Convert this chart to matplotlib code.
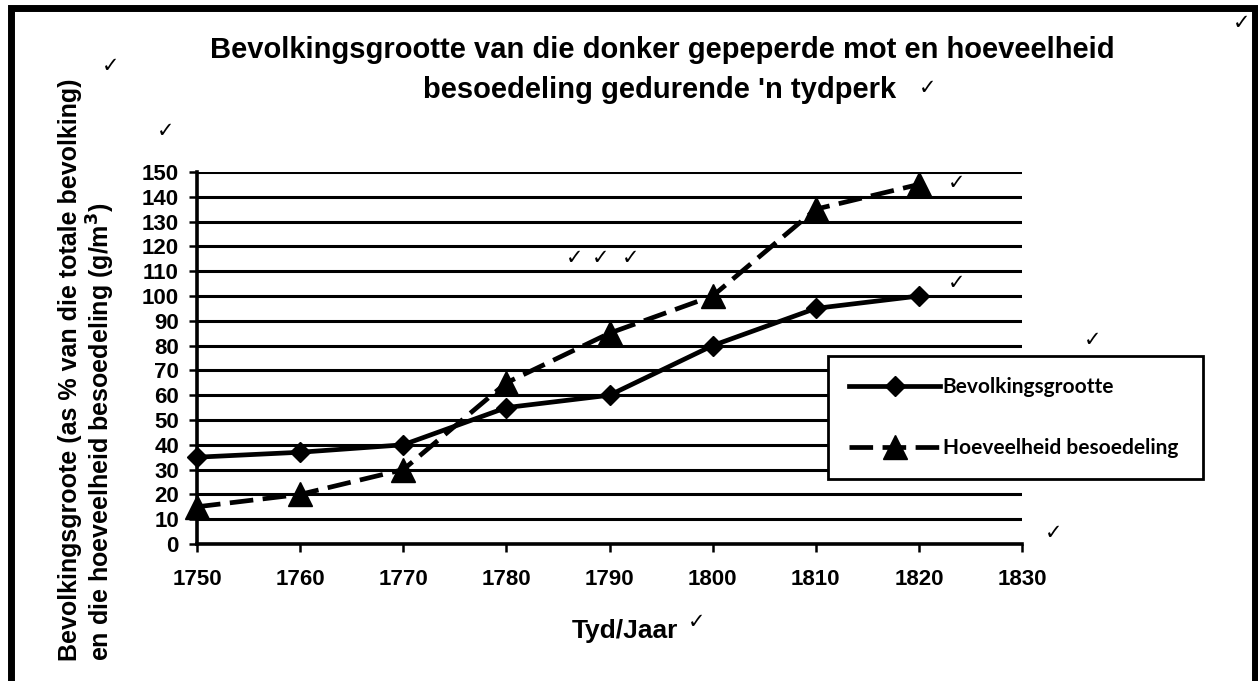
import matplotlib
matplotlib.use("Agg")
import matplotlib.pyplot as plt
from matplotlib.patches import Rectangle

years = [1750, 1760, 1770, 1780, 1790, 1800, 1810, 1820]
population = [35, 37, 40, 55, 60, 80, 95, 100]
pollution = [15, 20, 30, 65, 85, 100, 135, 145]
x_ticks = [1750, 1760, 1770, 1780, 1790, 1800, 1810, 1820, 1830]
y_ticks = list(range(0, 151, 10))

title_lines = ["Bevolkingsgrootte van die donker gepeperde mot en hoeveelheid",
               "besoedeling gedurende 'n tydperk"]
ylabel_lines = ["Bevolkingsgroote (as % van die totale bevolking)",
                "en die hoeveelheid besoedeling (g/m$^\\mathbf{3}$)"]
xlabel = "Tyd/Jaar"
series_names = ["Bevolkingsgrootte", "Hoeveelheid besoedeling"]

plt.rcParams['font.family'] = ['Liberation Sans', 'DejaVu Sans']

W, H = 1258, 681
fig = plt.figure(figsize=(W / 100, H / 100), dpi=100)
fig.patch.set_facecolor('white')


def fx(px):
    return px / W


def fy(py):
    return 1 - py / H


ax = fig.add_axes([fx(197), fy(544), (1022 - 197) / W, (544 - 172) / H])
ax.set_xlim(1750, 1830)
ax.set_ylim(0, 150)
ax.set_xticks(x_ticks)
ax.set_yticks(y_ticks)
ax.tick_params(axis='both', direction='out', length=6, width=1.8, color='black', labelsize=16)
ax.tick_params(axis='y', pad=7)
ax.tick_params(axis='x', pad=12)
for lab in ax.get_xticklabels() + ax.get_yticklabels():
    lab.set_fontweight('bold')
ax.grid(axis='y', color='black', linewidth=2.2)
ax.set_axisbelow(True)
for s in ['top', 'right']:
    ax.spines[s].set_visible(False)
ax.spines['left'].set_linewidth(2.6)
ax.spines['bottom'].set_linewidth(2.6)

l1, = ax.plot(years, population, color='black', linewidth=3.4, marker='D', markersize=10.5,
              label=series_names[0], clip_on=False, zorder=3)
l2, = ax.plot(years, pollution, color='black', linewidth=3.4, marker='^', markersize=17,
              dashes=(5, 2), label=series_names[1], clip_on=False, zorder=3)

# legend box
leg = fig.legend(handles=[l1, l2], loc='upper left',
                 bbox_to_anchor=(fx(828), fy(492), (1203 - 828) / W, (492 - 356) / H),
                 mode='expand', frameon=True, fancybox=False, edgecolor='black', framealpha=1,
                 prop={'family': 'Lato', 'weight': 'bold', 'size': 15}, handlelength=4.4,
                 handletextpad=0.1, labelspacing=2.0, borderpad=1.0, borderaxespad=0)
leg.get_frame().set_linewidth(2)
leg.set_zorder(5)

# title
fig.text(fx(662), fy(50), title_lines[0], ha='center', va='center', fontsize=21, fontweight='bold')
fig.text(fx(660), fy(90), title_lines[1], ha='center', va='center', fontsize=21, fontweight='bold')

# axis labels
fig.text(fx(625), fy(631), xlabel, ha='center', va='center', fontsize=19, fontweight='bold')
fig.text(fx(70), fy(661), ylabel_lines[0], ha='center', va='bottom', rotation=90,
         fontsize=18, fontweight='bold')
fig.text(fx(101), fy(661), ylabel_lines[1], ha='center', va='bottom', rotation=90,
         fontsize=18, fontweight='bold')

# check marks (marking annotations)
checks = [(1242, 23), (111, 66), (166, 131), (928, 88), (697, 622), (575, 258), (601, 258),
          (631, 258), (957, 183), (957, 283), (1093, 340), (1054, 533)]
for cx, cy in checks:
    fig.text(fx(cx), fy(cy), "\u2713", ha='center', va='center', fontsize=15,
             family='DejaVu Sans', color='black')

# outer border (bottom edge cut off)
fig.patches.append(Rectangle((fx(11), -0.05), (1255 - 11) / W, 1.05 - 8 / H, transform=fig.transFigure,
                             fill=False, edgecolor='black', linewidth=5, zorder=10))

fig.savefig('out.png', dpi=100)
